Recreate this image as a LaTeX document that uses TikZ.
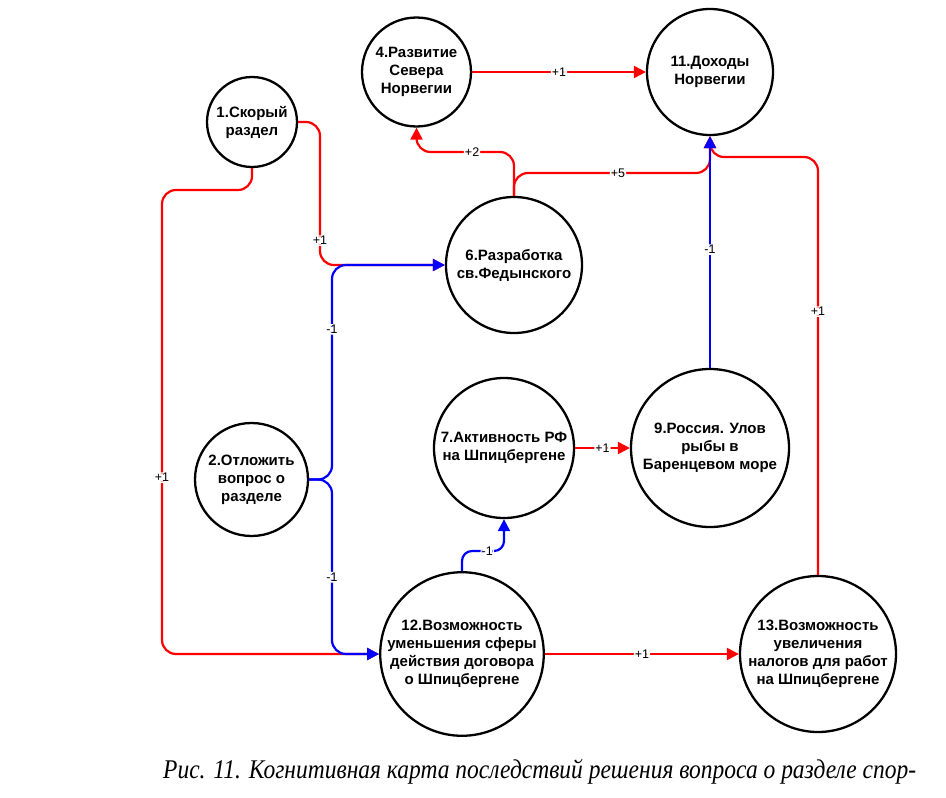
\documentclass[tikz,border=0pt]{standalone}
\usepackage{fontspec}
\setmainfont{Liberation Serif}
\newfontfamily\nodefont{Liberation Sans}
\usetikzlibrary{arrows.meta}
\definecolor{rd}{RGB}{255,0,0}
\definecolor{bl}{RGB}{0,0,255}
\newsavebox\capbox
\begin{document}
\sbox\capbox{\fontsize{27}{30}\selectfont\itshape Рис. 11. Когнитивная карта последствий решения вопроса о разделе спор-}%
\begin{tikzpicture}[x=1pt,y=-1pt,
  concept/.style={circle,draw=black,line width=2.3pt,fill=white,inner sep=0pt,align=center,
    font=\nodefont\bfseries\fontsize{15}{18}\selectfont},
  lbl/.style={fill=white,inner sep=1pt,font=\nodefont\fontsize{12.5}{14}\selectfont},
  link/.style={line width=2.2pt,rounded corners=14pt,-{Triangle[length=12pt,width=12pt]}},
  redlink/.style={link,draw=rd},
  bluelink/.style={link,draw=bl}]
\fill[white] (0,0) rectangle (946,798);
\useasboundingbox (0,0) rectangle (946,798);

% nodes
\node[concept,minimum size=90pt]  (n1)  at (252,122)   {1.Скорый\\раздел};
\node[concept,minimum size=109pt] (n4)  at (416.5,72)  {4.Развитие\\Севера\\Норвегии};
\node[concept,minimum size=126pt] (n11) at (710,72)    {11.Доходы\\Норвегии};
\node[concept,minimum size=136pt] (n6)  at (514,265)   {6.Разработка\\св.Федынского};
\node[concept,minimum size=113pt] (n2)  at (251.5,479.5) {2.Отложить\\вопрос о\\разделе};
\node[concept,minimum size=140pt] (n7)  at (504,448)   {7.Активность РФ\\на Шпицбергене};
\node[concept,minimum size=158pt] (n9)  at (710,448)   {9.Россия. Улов\\рыбы в\\Баренцевом море};
\node[concept,minimum size=162pt] (n12) at (462,654)   {12.Возможность\\уменьшения сферы\\действия договора\\о Шпицбергене};
\node[concept,minimum size=156pt] (n13) at (818,654)   {13.Возможность\\увеличения\\налогов для работ\\на Шпицбергене};

% red (positive) links
\draw[redlink] (n4.east) -- node[lbl]{+1} (n11.west);
\draw[redlink] (n6.north) -- (514,152) -- node[lbl,pos=0.43]{+2} (416.5,152) -- (n4.south);
\draw[redlink] (n6.north) -- (514,173) -- node[lbl,pos=0.53]{+5} (710,173) -- (n11.south);
\draw[redlink] (n13.north) -- node[lbl,pos=0.63]{+1} (818,157) -- (710,157) -- (n11.south);
\draw[redlink] (n1.east) -- (320,122) -- node[lbl,pos=0.83]{+1} (320,265) -- (n6.west);
\draw[redlink] (n1.south) -- (252,190) -- (162,190) -- node[lbl,pos=0.62]{+1} (162,654) -- (n12.west);
\draw[redlink] (n7.east) -- node[lbl]{+1} (n9.west);
\draw[redlink] (n12.east) -- node[lbl]{+1} (n13.west);

% blue (negative) links
\draw[bluelink] (n9.north) -- node[lbl,pos=0.51]{-1} (n11.south);
\draw[bluelink] (n2.east) -- (332,479.5) -- node[lbl,pos=0.7]{-1} (332,265) -- (n6.west);
\draw[bluelink] (n2.east) -- (332,479.5) -- node[lbl,pos=0.56]{-1} (332,654) -- (n12.west);
\draw[bluelink,rounded corners=10pt] (n12.north) -- (462,551) -- node[lbl,pos=0.6]{-1} (504,551) -- (n7.south);

% caption
\pgfmathsetmacro\capratio{753/\the\wd\capbox}
\node[anchor=base west,inner sep=0pt] (cap) at (163,778) {\scalebox{\capratio}[1]{\usebox\capbox}};
\end{tikzpicture}
\end{document}
